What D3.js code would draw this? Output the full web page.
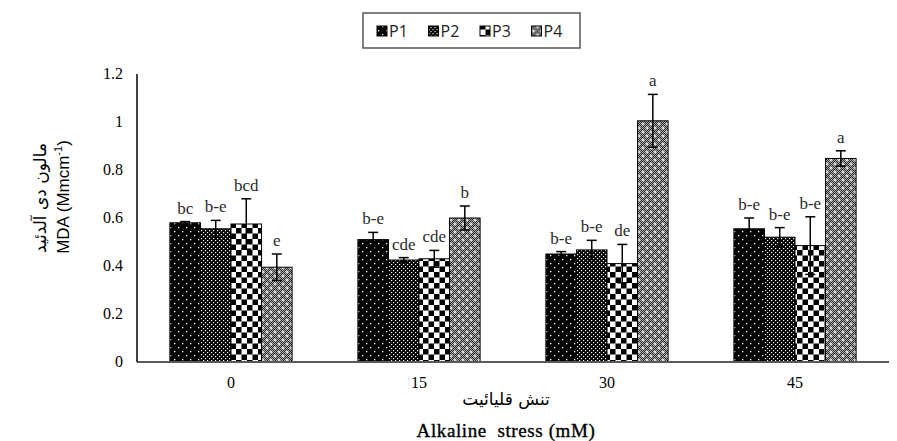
<!DOCTYPE html>
<html>
<head>
<meta charset="utf-8">
<script src="https://cdn.jsdelivr.net/npm/d3@7"></script>
<style>
  body { margin: 0; background: #fff; }
  svg { display: block; }
</style>
</head>
<body>
<svg id="chart" width="897" height="441"></svg>
<script>
// Data
const categories = ["0", "15", "30", "45"];
const series = ["P1", "P2", "P3", "P4"];

const p1 = [0.58, 0.51, 0.45, 0.555];
const p2 = [0.555, 0.425, 0.467, 0.52];
const p3 = [0.575, 0.43, 0.41, 0.485];
const p4 = [0.395, 0.60, 1.005, 0.848];

const p1Err = [0.005, 0.03, 0.01, 0.045];
const p2Err = [0.035, 0.01, 0.04, 0.04];
const p3Err = [0.105, 0.035, 0.08, 0.12];
const p4Err = [0.055, 0.05, 0.11, 0.032];

const p1Letters = ["bc", "b-e", "b-e", "b-e"];
const p2Letters = ["b-e", "cde", "b-e", "b-e"];
const p3Letters = ["bcd", "cde", "de", "b-e"];
const p4Letters = ["e", "b", "a", "a"];

const yTicks = [0, 0.2, 0.4, 0.6, 0.8, 1, 1.2];

const values = [p1, p2, p3, p4];
const errors = [p1Err, p2Err, p3Err, p4Err];
const letters = [p1Letters, p2Letters, p3Letters, p4Letters];

const svg = d3.select("#chart");
const serif = "'Liberation Serif', 'Times New Roman', serif";

// Fill patterns
const defs = svg.append("defs");

// P1: black with sparse white dots
let pat = defs.append("pattern").attr("id", "pat-p1").attr("patternUnits", "userSpaceOnUse")
  .attr("width", 8).attr("height", 8);
pat.append("rect").attr("width", 8).attr("height", 8).attr("fill", "#000");
pat.append("rect").attr("x", 1).attr("y", 1).attr("width", 1.3).attr("height", 1.3).attr("fill", "#fff");
pat.append("rect").attr("x", 5).attr("y", 5).attr("width", 1.3).attr("height", 1.3).attr("fill", "#fff");

// P2: black with dense white dots
pat = defs.append("pattern").attr("id", "pat-p2").attr("patternUnits", "userSpaceOnUse")
  .attr("width", 4).attr("height", 4);
pat.append("rect").attr("width", 4).attr("height", 4).attr("fill", "#000");
pat.append("rect").attr("x", 0).attr("y", 0).attr("width", 1.2).attr("height", 1.2).attr("fill", "#fff");
pat.append("rect").attr("x", 2).attr("y", 2).attr("width", 1.2).attr("height", 1.2).attr("fill", "#fff");

// P3: checkerboard
pat = defs.append("pattern").attr("id", "pat-p3").attr("patternUnits", "userSpaceOnUse")
  .attr("width", 11).attr("height", 11);
pat.append("rect").attr("width", 11).attr("height", 11).attr("fill", "#fff");
pat.append("rect").attr("width", 5.5).attr("height", 5.5).attr("fill", "#000");
pat.append("rect").attr("x", 5.5).attr("y", 5.5).attr("width", 5.5).attr("height", 5.5).attr("fill", "#000");

// P4: fine grey dither with white plus marks
pat = defs.append("pattern").attr("id", "dither").attr("patternUnits", "userSpaceOnUse")
  .attr("width", 2).attr("height", 2);
pat.append("rect").attr("width", 2).attr("height", 2).attr("fill", "#b0b0b0");
pat.append("rect").attr("width", 1).attr("height", 1).attr("fill", "#222");
pat.append("rect").attr("x", 1).attr("y", 1).attr("width", 1).attr("height", 1).attr("fill", "#222");

pat = defs.append("pattern").attr("id", "pat-p4").attr("patternUnits", "userSpaceOnUse")
  .attr("width", 8).attr("height", 8);
pat.append("rect").attr("width", 8).attr("height", 8).attr("fill", "url(#dither)");
[[2, 2], [6, 6]].forEach(([cx, cy]) => {
  pat.append("rect").attr("x", cx - 1.5).attr("y", cy - 0.5).attr("width", 3).attr("height", 1).attr("fill", "#fff");
  pat.append("rect").attr("x", cx - 0.5).attr("y", cy - 1.5).attr("width", 1).attr("height", 3).attr("fill", "#fff");
});

const fills = ["url(#pat-p1)", "url(#pat-p2)", "url(#pat-p3)", "url(#pat-p4)"];

// Scales
const margin = { left: 137, right: 8, top: 74, bottom: 79 };
const width = 897 - margin.left - margin.right;
const height = 441 - margin.top - margin.bottom;

const x = d3.scaleBand().domain(categories).range([0, width]).paddingInner(0.35).paddingOuter(0.175);
const xs = d3.scaleBand().domain(series).range([0, x.bandwidth()]);
const y = d3.scaleLinear().domain([0, 1.2]).range([height, 0]);

const g = svg.append("g").attr("transform", `translate(${margin.left},${margin.top})`);

// Bars
series.forEach((s, si) => {
  const grp = g.append("g").attr("class", "series-" + s);
  grp.selectAll("rect")
    .data(categories)
    .enter()
    .append("rect")
    .attr("x", (c) => x(c) + xs(s))
    .attr("y", (c, i) => y(values[si][i]))
    .attr("width", xs.bandwidth())
    .attr("height", (c, i) => height - y(values[si][i]))
    .attr("fill", fills[si])
    .attr("stroke", "#000")
    .attr("stroke-width", 1);
});

// Error bars and letters
series.forEach((s, si) => {
  const grp = g.append("g").attr("class", "err-" + s);
  categories.forEach((c, i) => {
    const cx = x(c) + xs(s) + xs.bandwidth() / 2;
    const v = values[si][i], e = errors[si][i];
    const top = y(v + e), bot = y(v - e);
    grp.append("line").attr("x1", cx).attr("x2", cx).attr("y1", top).attr("y2", bot)
      .attr("stroke", "#000").attr("stroke-width", 1.5);
    [top, bot].forEach((yy) => {
      grp.append("line").attr("x1", cx - 5).attr("x2", cx + 5).attr("y1", yy).attr("y2", yy)
        .attr("stroke", "#000").attr("stroke-width", 1.5);
    });
    grp.append("text")
      .attr("x", cx)
      .attr("y", top - 8)
      .attr("text-anchor", "middle")
      .style("font-family", serif)
      .style("font-size", "17px")
      .attr("fill", "#2a2a2a")
      .text(letters[si][i]);
  });
});

// Axes
g.append("line").attr("x1", 0).attr("x2", width).attr("y1", height).attr("y2", height)
  .attr("stroke", "#595959").attr("stroke-width", 2);
g.append("line").attr("x1", 0).attr("x2", 0).attr("y1", 0).attr("y2", height)
  .attr("stroke", "#000").attr("stroke-width", 1.5);

g.selectAll(".ytick")
  .data(yTicks)
  .enter()
  .append("text")
  .attr("class", "ytick")
  .attr("x", -14)
  .attr("y", (d) => y(d) + 5)
  .attr("text-anchor", "end")
  .style("font-family", serif)
  .style("font-size", "16px")
  .text((d) => d3.format("~g")(d));

g.selectAll(".xtick")
  .data(categories)
  .enter()
  .append("text")
  .attr("class", "xtick")
  .attr("x", (d) => x(d) + x.bandwidth() / 2)
  .attr("y", height + 26)
  .attr("text-anchor", "middle")
  .style("font-family", serif)
  .style("font-size", "16px")
  .text((d) => d);

// Axis titles
svg.append("text")
  .attr("x", 506).attr("y", 405)
  .attr("text-anchor", "middle")
  .style("font-family", "'DejaVu Sans', sans-serif")
  .style("font-size", "17px")
  .attr("direction", "rtl")
  .text("تنش قلیائیت");

svg.append("text")
  .attr("x", 506).attr("y", 437)
  .attr("text-anchor", "middle")
  .style("font-family", serif)
  .style("font-size", "19px")
  .style("letter-spacing", "0.6px")
  .attr("stroke", "#000")
  .attr("stroke-width", 0.35)
  .style("white-space", "pre")
  .text("Alkaline  stress (mM)");

svg.append("text")
  .attr("transform", "translate(46,198) rotate(-90)")
  .attr("text-anchor", "middle")
  .style("font-family", "'DejaVu Sans', sans-serif")
  .style("font-size", "17px")
  .attr("direction", "rtl")
  .text("مالون دی آلدئید");

const mda = svg.append("text")
  .attr("transform", "translate(69,197) rotate(-90)")
  .attr("text-anchor", "middle")
  .style("font-family", "'Liberation Sans', sans-serif")
  .style("font-size", "17px");
mda.append("tspan").text("MDA (Mmcm");
mda.append("tspan").attr("dy", -7).style("font-size", "11px").text("-1");
mda.append("tspan").attr("dy", 7).text(")");

// Legend
const legend = svg.append("g").attr("transform", "translate(363,13)");
legend.append("rect").attr("width", 217).attr("height", 35)
  .attr("fill", "#fff").attr("stroke", "#555").attr("stroke-width", 1.5);
series.forEach((s, si) => {
  const item = legend.append("g").attr("transform", `translate(${14 + si * 51.5},0)`);
  item.append("rect").attr("x", 0).attr("y", 13).attr("width", 10).attr("height", 10)
    .attr("fill", fills[si]).attr("stroke", "#000").attr("stroke-width", 1);
  item.append("text").attr("x", 12).attr("y", 24)
    .style("font-family", "'Open Sans', sans-serif")
    .style("font-size", "16px")
    .attr("fill", "#222")
    .text(s);
});
</script>
</body>
</html>
